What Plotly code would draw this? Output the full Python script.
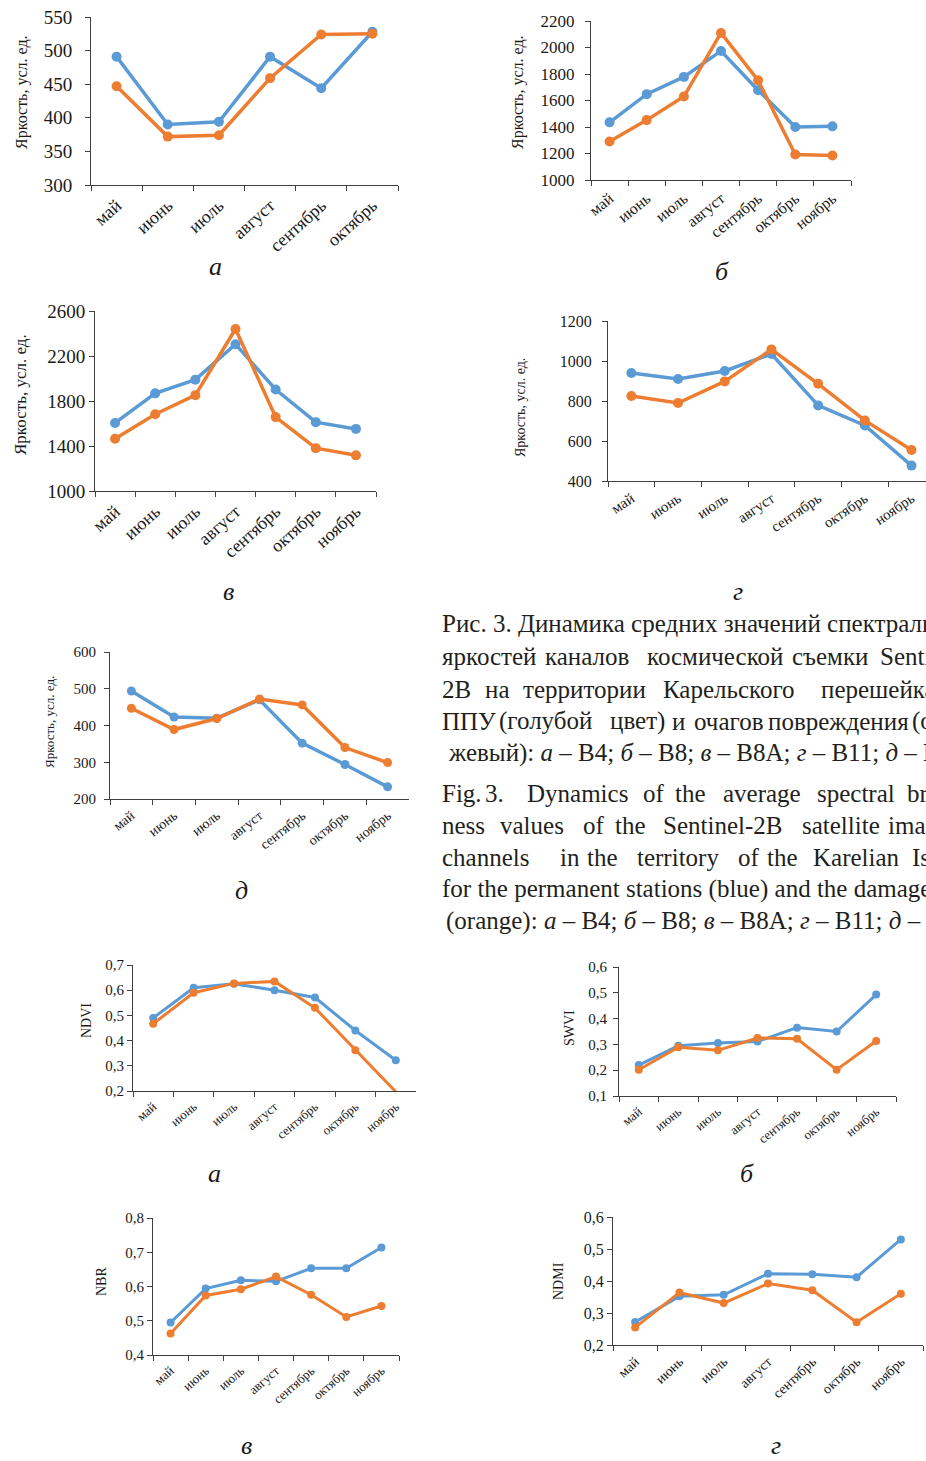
import plotly.graph_objects as go

W, H = 926, 1461

# ---- data -------------------------------------------------------------
months6 = ["май", "июнь", "июль", "август", "сентябрь", "октябрь"]
months7 = ["май", "июнь", "июль", "август", "сентябрь", "октябрь", "ноябрь"]

b4_ppu = [491, 390, 394, 491, 444, 528]
b4_dmg = [447, 372, 374, 459, 524, 525]
b8_ppu = [1435, 1648, 1778, 1974, 1678, 1400, 1405]
b8_dmg = [1290, 1452, 1630, 2110, 1752, 1192, 1185]
b8a_ppu = [1605, 1868, 1990, 2305, 1902, 1612, 1552]
b8a_dmg = [1465, 1682, 1852, 2440, 1657, 1381, 1317]
b11_ppu = [940, 910, 950, 1035, 778, 678, 477]
b11_dmg = [825, 790, 898, 1058, 886, 703, 555]
b12_ppu = [494, 423, 420, 470, 352, 294, 233]
b12_dmg = [447, 389, 419, 472, 456, 340, 299]
ndvi_ppu = [0.49, 0.61, 0.626, 0.60, 0.571, 0.44, 0.322]
ndvi_dmg = [0.467, 0.59, 0.627, 0.635, 0.53, 0.362, 0.197]
swvi_ppu = [0.22, 0.295, 0.305, 0.311, 0.365, 0.35, 0.493]
swvi_dmg = [0.202, 0.289, 0.277, 0.325, 0.322, 0.202, 0.313]
nbr_ppu = [0.495, 0.594, 0.618, 0.615, 0.653, 0.653, 0.714]
nbr_dmg = [0.463, 0.574, 0.592, 0.629, 0.576, 0.511, 0.543]
ndmi_ppu = [0.272, 0.352, 0.357, 0.423, 0.421, 0.412, 0.530]
ndmi_dmg = [0.255, 0.364, 0.331, 0.392, 0.371, 0.271, 0.360]

BLUE = "#5B9BD5"
ORANGE = "#ED7D31"
AXIS = "#404040"
INK = "#1a1a1a"
SERIF = "Liberation Serif"
BRIGHT = "Яркость, усл. ед."

# panel boxes in pixels: x0, x1, y_top, y_bottom
# ytf/xtf: tick label sizes, ang: month label angle, so: y label standoff
panels = [
    dict(cats=months6, a=b4_ppu, b=b4_dmg, box=(91, 398, 17, 185), yr=(300, 550), dt=50,
         ytk=19, xtk=18, ang=-42, so=9, yt=BRIGHT, ytf=16, ytpos=(22, 92),
         lab="а", labpos=(215, 266), lw=3.5, ms=10),
    dict(cats=months7, a=b8_ppu, b=b8_dmg, box=(591, 851, 21, 180), yr=(1000, 2200), dt=200,
         ytk=17, xtk=16, ang=-39, so=7, yt=BRIGHT, ytf=16, ytpos=(518, 92),
         lab="б", labpos=(722, 272), lw=3.5, ms=10),
    dict(cats=months7, a=b8a_ppu, b=b8a_dmg, box=(95, 376, 311, 491), yr=(1000, 2600), dt=400,
         ytk=19, xtk=18, ang=-42, so=0, yt=BRIGHT, ytf=17, ytpos=(20, 395),
         lab="в", labpos=(228, 592), lw=3.5, ms=10),
    dict(cats=months7, a=b11_ppu, b=b11_dmg, box=(608, 926, 321, 481), yr=(400, 1200), dt=200,
         ytk=16, xtk=15, ang=-34, so=7, yt=BRIGHT, ytf=14, ytpos=(521, 408),
         lab="г", labpos=(738, 592), lw=3.5, ms=10, xmax=6.31),
    dict(cats=months7, a=b12_ppu, b=b12_dmg, box=(110, 409, 652, 799), yr=(200, 600), dt=100,
         ytk=15, xtk=14, ang=-38, so=5, yt=BRIGHT, ytf=13, ytpos=(50, 722),
         lab="д", labpos=(242, 890), lw=3.5, ms=9),
    dict(cats=months7, a=ndvi_ppu, b=ndvi_dmg, box=(133, 416, 965, 1091), yr=(0.2, 0.7), dt=0.1,
         ytk=15, xtk=13, ang=-40, so=0, yt="NDVI", ytf=14, ytpos=(86, 1021),
         lab="а", labpos=(214, 1173), lw=3, ms=8),
    dict(cats=months7, a=swvi_ppu, b=swvi_dmg, box=(619, 896, 967, 1096), yr=(0.1, 0.6), dt=0.1,
         ytk=15, xtk=13, ang=-39, so=3, yt="SWVI", ytf=14, ytpos=(569, 1028),
         lab="б", labpos=(747, 1173), lw=3, ms=8),
    dict(cats=months7, a=nbr_ppu, b=nbr_dmg, box=(153, 399, 1218, 1355), yr=(0.4, 0.8), dt=0.1,
         ytk=15, xtk=13, ang=-41, so=0, yt="NBR", ytf=14, ytpos=(101, 1282),
         lab="в", labpos=(246, None), lw=3, ms=8),
    dict(cats=months7, a=ndmi_ppu, b=ndmi_dmg, box=(613, 923, 1217, 1345), yr=(0.2, 0.6), dt=0.1,
         ytk=16, xtk=14, ang=-43, so=0, yt="NDMI", ytf=14, ytpos=(558, 1281),
         lab="г", labpos=(776, None), lw=3, ms=8),
]

fig = go.Figure()
layout = {}
annotations = []


def px(x):
    return x / W


def py(y):
    return 1 - y / H


for i, p in enumerate(panels, start=1):
    xa, ya = f"x{i}", f"y{i}"
    for vals, col in ((p["a"], BLUE), (p["b"], ORANGE)):
        fig.add_trace(go.Scatter(
            x=p["cats"], y=vals, xaxis=xa, yaxis=ya, mode="lines+markers",
            line=dict(color=col, width=p["lw"]), marker=dict(color=col, size=p["ms"]),
            showlegend=False, hoverinfo="skip", cliponaxis=False,
        ))
    x0, x1, yt, yb = p["box"]
    n = len(p["cats"])
    xmax = p.get("xmax", n - 0.5)
    layout[f"xaxis{i}"] = dict(
        domain=[px(x0), px(x1)], anchor=ya, type="category", range=[-0.5, xmax],
        tickson="boundaries", ticks="outside", ticklen=5, tickcolor=AXIS,
        showline=True, linecolor=AXIS, linewidth=1, showgrid=False, zeroline=False,
        tickangle=p["ang"], tickfont=dict(family=SERIF, size=p["xtk"], color=INK),
        ticklabelstandoff=2, automargin=False, fixedrange=True,
    )
    layout[f"yaxis{i}"] = dict(
        domain=[py(yb), py(yt)], anchor=xa, range=list(p["yr"]), dtick=p["dt"],
        tick0=p["yr"][0], ticks="outside", ticklen=5, tickcolor=AXIS,
        showline=True, linecolor=AXIS, linewidth=1, showgrid=False, zeroline=False,
        tickfont=dict(family=SERIF, size=p["ytk"], color=INK),
        ticklabelstandoff=p["so"], automargin=False, fixedrange=True,
    )
    annotations.append(dict(
        x=px(p["ytpos"][0]), y=py(p["ytpos"][1]), xref="paper", yref="paper",
        text=p["yt"], textangle=-90, showarrow=False, xanchor="center", yanchor="middle",
        font=dict(family=SERIF, size=p["ytf"], color=INK),
    ))
    lx, ly = p["labpos"]
    # the two bottom letters sit on the lower edge of the page
    annotations.append(dict(
        x=px(lx), y=py(ly) if ly is not None else 0, xref="paper", yref="paper",
        text=f"<i>{p['lab']}</i>", showarrow=False, xanchor="center",
        yanchor="middle" if ly is not None else "bottom", borderpad=0,
        font=dict(family=SERIF, size=26, color=INK),
    ))

# ---- figure caption ------------------------------------------------------
# justified lines are set word by word, the others as plain strings
CAP = 25
caption_words = [
    (623, [(442, "Рис. 3. Динамика средних значений спектральных")]),
    (656, [(442, "яркостей"), (545, "каналов"), (647, "космической"),
           (792, "съемки"), (880, "Sentinel-")]),
    (689, [(442, "2B"), (485, "на"), (523, "территории"), (663, "Карельского"),
           (821, "перешейка")]),
    (721, [(442, "ППУ"), (499, "(голубой"), (610, "цвет)"), (672, "и"),
           (694, "очагов"), (768, "повреждения"), (912, "(оран-")]),
    (753, [(448, "жевый): <i>а</i> – B4; <i>б</i> – B8; <i>в</i> – B8A; <i>г</i> – B11; "
                 "<i>д</i> – B12")]),
    (793, [(442, "Fig."), (485, "3."), (527, "Dynamics"), (643, "of"), (675, "the"),
           (723, "average"), (817, "spectral"), (907, "bright-")]),
    (825, [(442, "ness"), (500, "values"), (583, "of"), (615, "the"),
           (663, "Sentinel-2B"), (802, "satellite"), (888, "image")]),
    (857, [(442, "channels"), (560, "in"), (587, "the"), (637, "territory"),
           (738, "of"), (767, "the"), (813, "Karelian"), (912, "Isthmus")]),
    (889, [(442, "for the permanent stations (blue) and the damage foci")]),
    (921, [(446, "(orange): <i>а</i> – B4; <i>б</i> – B8; <i>в</i> – B8A; <i>г</i> – B11; "
                 "<i>д</i> – B12")]),
]
for yline, words in caption_words:
    for xw, word in words:
        annotations.append(dict(
            x=px(xw), y=py(yline), xref="paper", yref="paper", text=word,
            showarrow=False, xanchor="left", yanchor="middle", xshift=-2,
            font=dict(family=SERIF, size=CAP, color="#231f20"),
        ))

fig.update_layout(
    width=W, height=H, margin=dict(l=0, r=0, t=0, b=0, autoexpand=False),
    paper_bgcolor="white", plot_bgcolor="white",
    separators=", ", showlegend=False, annotations=annotations, **layout,
)

fig.write_html("out.html")
